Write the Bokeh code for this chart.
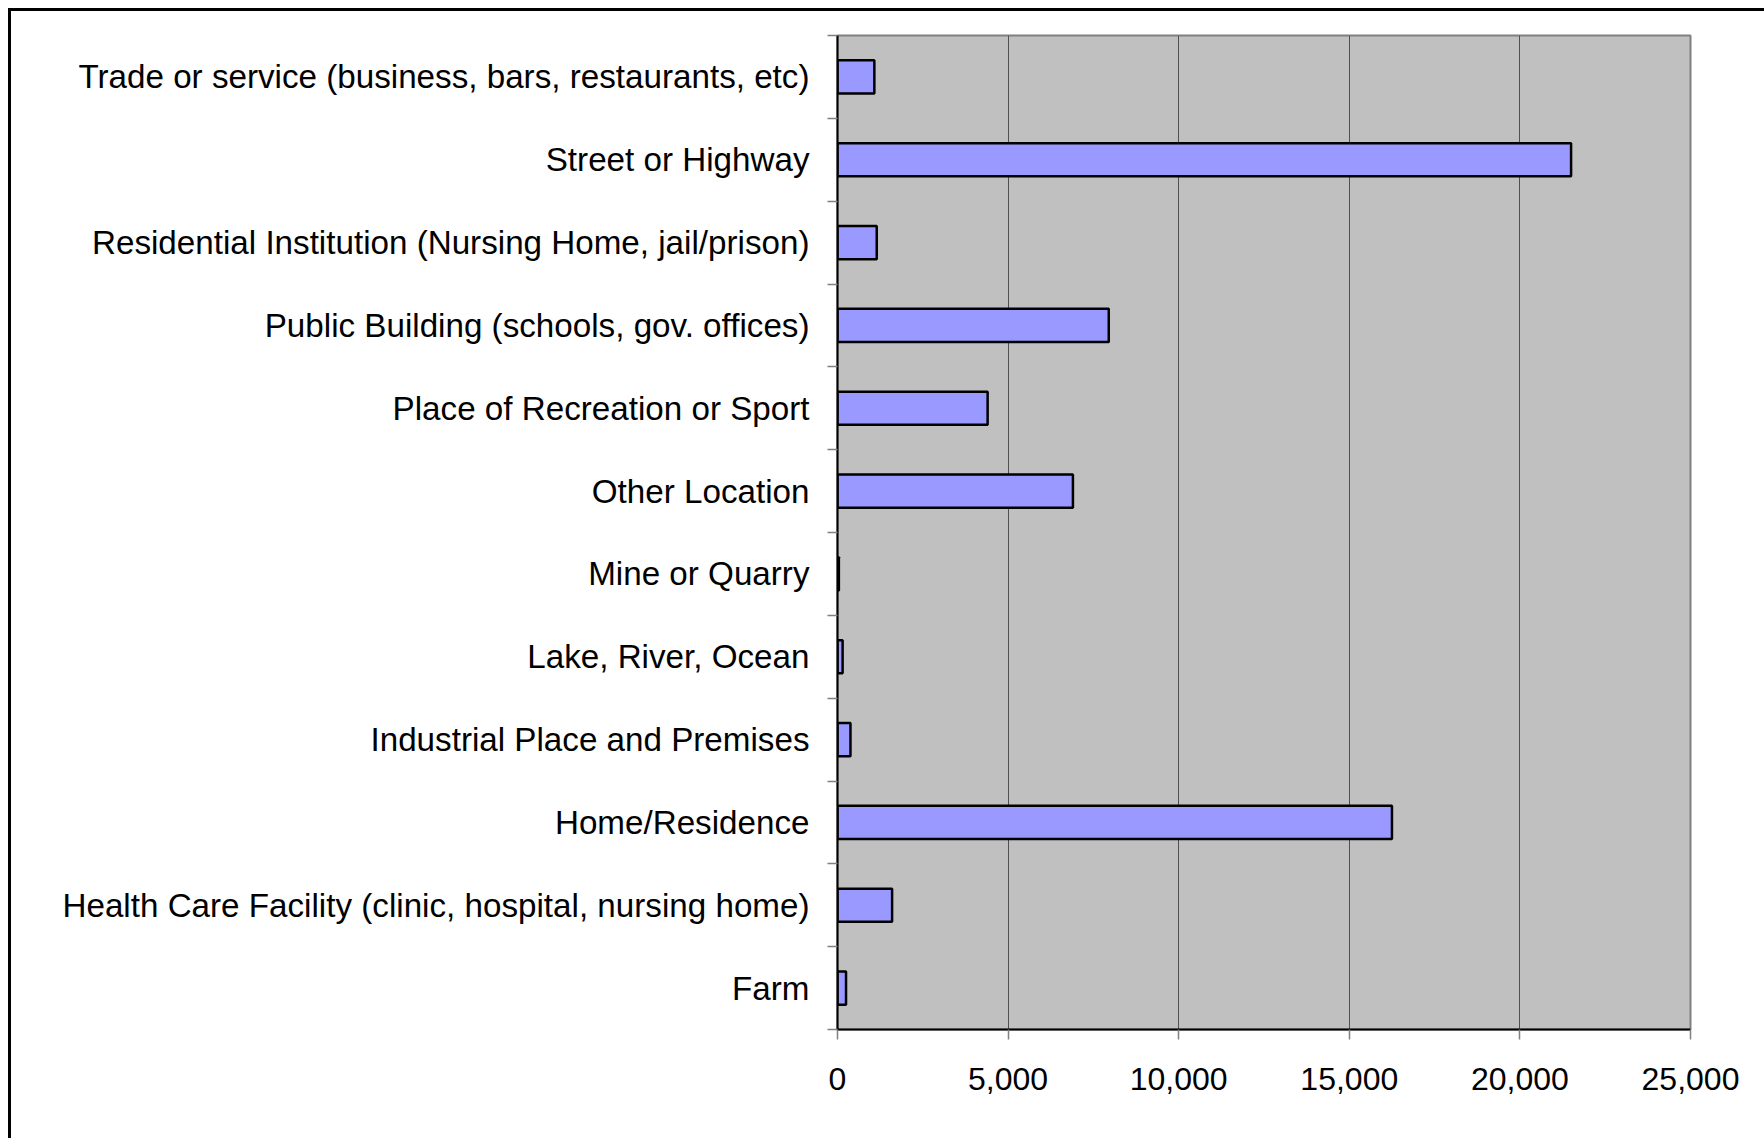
from bokeh.plotting import figure
from bokeh.models import Range1d, FixedTicker, NumeralTickFormatter
from bokeh.embed import file_html
from bokeh.resources import INLINE

# Categories listed bottom to top
categories = [
    "Farm",
    "Health Care Facility (clinic, hospital, nursing home)",
    "Home/Residence",
    "Industrial Place and Premises",
    "Lake, River, Ocean",
    "Mine or Quarry",
    "Other Location",
    "Place of Recreation or Sport",
    "Public Building (schools, gov. offices)",
    "Residential Institution (Nursing Home, jail/prison)",
    "Street or Highway",
    "Trade or service (business, bars, restaurants, etc)",
]
values = [250, 1600, 16250, 380, 150, 40, 6900, 4400, 7950, 1150, 21500, 1080]
x_ticks = [0, 5000, 10000, 15000, 20000, 25000]

centers = [i + 0.5 for i in range(len(categories))]
bounds = list(range(len(categories) + 1))

p = figure(
    width=1756, height=1130,
    frame_width=853, frame_height=994,
    min_border_left=826, min_border_top=24, min_border_right=74, min_border_bottom=109,
    x_range=Range1d(0, 25000), y_range=Range1d(0, len(categories)),
    output_backend="svg", toolbar_location=None,
)
p.styles = {"margin-left": "8px", "margin-top": "8px",
            "border-left": "3px solid black", "border-top": "3px solid black"}

p.hbar(y=centers, left=0, right=values, height=0.4,
       fill_color="#9999FF", line_color="black", line_width=2.5)

p.background_fill_color = "#C0C0C0"
p.border_fill_color = "white"
p.outline_line_color = "#808080"
p.outline_line_width = 2

# x axis
xa = p.xaxis[0]
xa.ticker = FixedTicker(ticks=x_ticks, minor_ticks=[])
xa.formatter = NumeralTickFormatter(format="0,0")
xa.axis_line_color = "black"
xa.axis_line_width = 2
xa.major_tick_in = 0
xa.major_tick_out = 10
xa.major_tick_line_color = "#808080"
xa.major_tick_line_width = 1.5
xa.minor_tick_line_color = None
xa.major_label_standoff = 28
xa.major_label_text_font = "Liberation Sans"
xa.major_label_text_font_size = "32px"
xa.major_label_text_color = "black"

# y axis
ya = p.yaxis[0]
ya.ticker = FixedTicker(ticks=centers, minor_ticks=bounds)
ya.major_label_overrides = {c: name for c, name in zip(centers, categories)}
ya.axis_line_color = "black"
ya.axis_line_width = 2
ya.major_tick_in = 0
ya.major_tick_out = 0
ya.major_tick_line_color = None
ya.minor_tick_in = 0
ya.minor_tick_out = 10
ya.minor_tick_line_color = "#808080"
ya.minor_tick_line_width = 1.5
ya.major_label_standoff = 18
ya.major_label_text_font = "Liberation Sans"
ya.major_label_text_font_size = "33.2px"
ya.major_label_text_color = "black"

p.xgrid.ticker = FixedTicker(ticks=x_ticks)
p.xgrid.grid_line_color = "#505050"
p.xgrid.grid_line_width = 1
p.ygrid.visible = False

open("out.html", "w").write(file_html(p, INLINE))
